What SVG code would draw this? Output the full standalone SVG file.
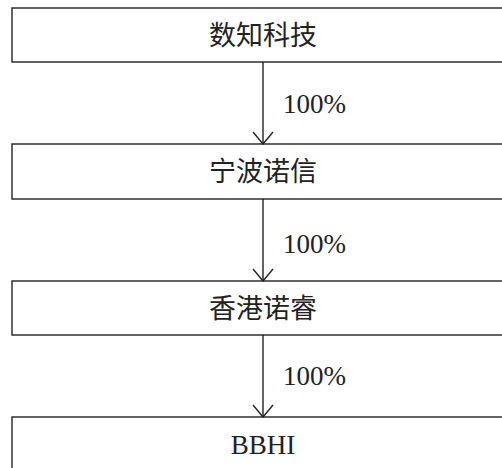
<svg xmlns="http://www.w3.org/2000/svg" width="502" height="468" viewBox="0 0 502 468">
<defs>
<style>
.box{fill:#fff;stroke:#222;stroke-width:1.4}
.t{font-family:"Liberation Serif","Noto Sans CJK SC",serif;font-size:27px;fill:#222;text-anchor:middle}
.l{font-family:"Liberation Serif",serif;font-size:27px;fill:#222}
.c{stroke:#222;stroke-width:1.4;fill:none}
</style>
<marker id="ah" markerWidth="14" markerHeight="22" refX="13" refY="11" orient="auto" markerUnits="userSpaceOnUse" viewBox="0 0 14 22">
<path d="M1,1 L13,11 L1,21" fill="none" stroke="#222" stroke-width="1.4"/>
</marker>
</defs>
<rect width="502" height="468" fill="#fff"/>
<g id="n1"><rect class="box" x="12" y="8" width="502" height="54"/><text class="t" x="263" y="45">数知科技</text></g>
<g id="n2"><rect class="box" x="12" y="144" width="502" height="55"/><text class="t" x="263" y="181">宁波诺信</text></g>
<g id="n3"><rect class="box" x="12" y="281" width="502" height="54"/><text class="t" x="263" y="318">香港诺睿</text></g>
<g id="n4"><rect class="box" x="12" y="417" width="502" height="70"/><text class="t" x="263" y="454">BBHI</text></g>
<g id="connectors">
<line class="c" x1="263" y1="62" x2="263" y2="144" marker-end="url(#ah)"/>
<line class="c" x1="263" y1="199" x2="263" y2="281" marker-end="url(#ah)"/>
<line class="c" x1="263" y1="335" x2="263" y2="417" marker-end="url(#ah)"/>
<text class="l" x="283" y="113">100%</text>
<text class="l" x="283" y="253">100%</text>
<text class="l" x="283" y="385">100%</text>
</g>
</svg>
